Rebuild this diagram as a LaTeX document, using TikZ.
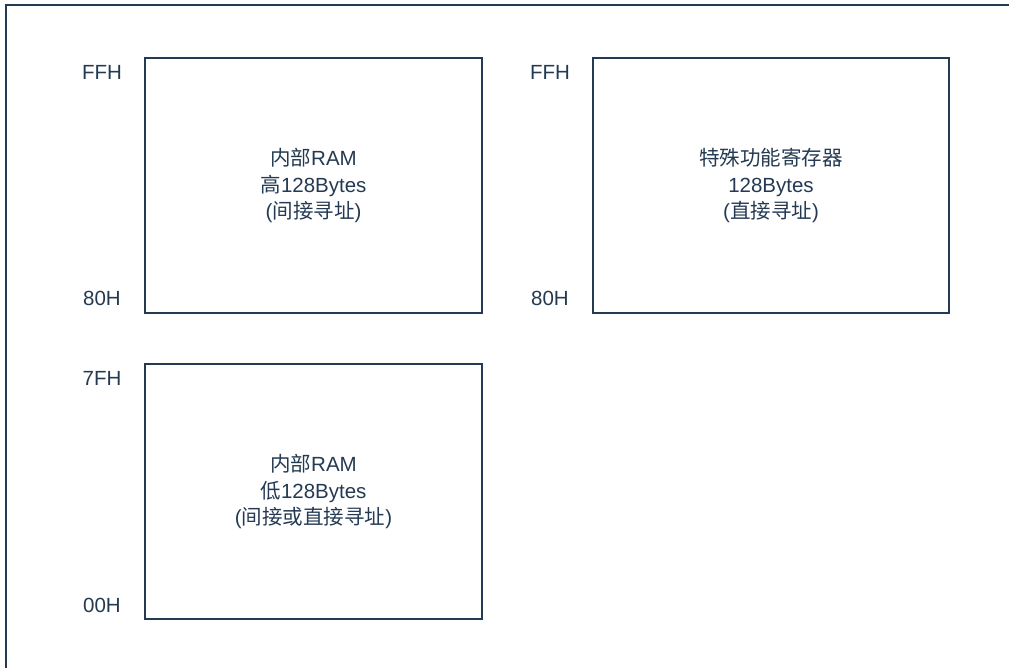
\documentclass[tikz,border=0pt]{standalone}
\usepackage{fontspec}
\setmainfont{Liberation Sans}
\newfontfamily\cjk{Noto Sans CJK SC}
\definecolor{navy}{HTML}{243A52}
\tikzset{
  membox/.style={draw=navy, line width=1.5pt, minimum width=337pt, minimum height=255pt, inner sep=0pt, align=center, text=navy},
  addr/.style={text=navy, inner sep=0pt}
}
\begin{document}
\begin{tikzpicture}[x=1pt, y=-1pt, every node/.style={font=\fontsize{20.5}{26.5}\selectfont}]
    \useasboundingbox (0,0) rectangle (1009,668);

    % Rahmen
    \draw[navy, line width=2pt] (6,668) -- (6,5) -- (1009,5);

    % Speicherblöcke
    \node[membox] (ramHigh) at (313.5,185.5) {{\cjk 内部}RAM\\{\cjk 高}128Bytes\\({\cjk 间接寻址})};
    \node[membox, minimum width=356pt] (sfr) at (771,185.5) {{\cjk 特殊功能寄存器}\\128Bytes\\({\cjk 直接寻址})};
    \node[membox] (ramLow) at (313.5,491.5) {{\cjk 内部}RAM\\{\cjk 低}128Bytes\\({\cjk 间接或直接寻址})};

    % Adressen
    \node[addr] (highTop) at (102,72) {FFH};
    \node[addr] (highBot) at (102,298) {80H};
    \node[addr] (sfrTop) at (550,72) {FFH};
    \node[addr] (sfrBot) at (550,298) {80H};
    \node[addr] (lowTop) at (102,378) {7FH};
    \node[addr] (lowBot) at (102,605) {00H};
\end{tikzpicture}
\end{document}
